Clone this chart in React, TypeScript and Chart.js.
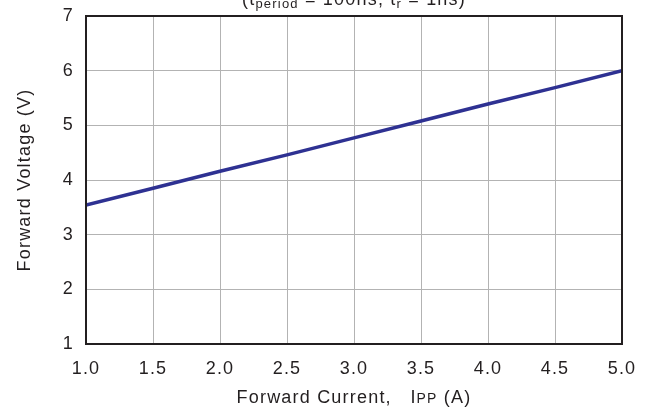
import React, { useEffect, useRef } from "react";
import { Chart, registerables } from "chart.js";

Chart.register(...registerables);

const currentA: number[] = [1.0, 1.5, 2.0, 2.5, 3.0, 3.5, 4.0, 4.5, 5.0];
const voltageV: number[] = [3.54, 3.85, 4.16, 4.46, 4.77, 5.08, 5.39, 5.69, 6.0];
const xTickLabels: string[] = ["1.0", "1.5", "2.0", "2.5", "3.0", "3.5", "4.0", "4.5", "5.0"];
const yTickLabels: string[] = ["1", "2", "3", "4", "5", "6", "7"];
const xTitle = "Forward Current,   I";
const xTitleSub = "PP";
const xTitleEnd = " (A)";
const yTitle = "Forward Voltage (V)";
const titleParts: { t: string; sub: boolean }[] = [
  { t: "(t", sub: false },
  { t: "period", sub: true },
  { t: " = 100ns, t", sub: false },
  { t: "r", sub: true },
  { t: " = 1ns)", sub: false },
];

const FONT = "Arial, 'Liberation Sans', Helvetica, sans-serif";
const INK = "#231f20";
const SPACING = "1.2px";

const spacingPlugin = {
  id: "spacing",
  beforeUpdate(chart: any) {
    chart.ctx.letterSpacing = SPACING;
  },
  beforeLayout(chart: any) {
    chart.ctx.letterSpacing = SPACING;
  },
  beforeDraw(chart: any) {
    chart.ctx.letterSpacing = SPACING;
  },
};

const framePlugin = {
  id: "frame",
  afterDraw(chart: any) {
    const { ctx, chartArea } = chart;
    const { left, right, top, bottom } = chartArea;
    ctx.save();
    ctx.letterSpacing = SPACING;
    ctx.strokeStyle = INK;
    ctx.lineWidth = 2;
    ctx.strokeRect(left, top, right - left, bottom - top);

    // partially clipped title at top
    const mainFont = `18px ${FONT}`;
    const subFont = `13px ${FONT}`;
    let total = 0;
    for (const p of titleParts) {
      ctx.font = p.sub ? subFont : mainFont;
      total += ctx.measureText(p.t).width;
    }
    let x = (left + right) / 2 - total / 2;
    ctx.fillStyle = INK;
    ctx.textBaseline = "alphabetic";
    ctx.textAlign = "left";
    for (const p of titleParts) {
      ctx.font = p.sub ? subFont : mainFont;
      ctx.fillText(p.t, x, p.sub ? 8 : 5);
      x += ctx.measureText(p.t).width;
    }

    // x-axis title
    const ty = 403;
    ctx.font = mainFont;
    const w1 = ctx.measureText(xTitle).width;
    ctx.font = `14px ${FONT}`;
    const w2 = ctx.measureText(xTitleSub).width;
    ctx.font = mainFont;
    const w3 = ctx.measureText(xTitleEnd).width;
    let tx = (left + right) / 2 - (w1 + w2 + w3) / 2;
    ctx.font = mainFont;
    ctx.fillText(xTitle, tx, ty);
    tx += w1;
    ctx.font = `14px ${FONT}`;
    ctx.fillText(xTitleSub, tx, ty);
    tx += w2;
    ctx.font = mainFont;
    ctx.fillText(xTitleEnd, tx, ty);
    ctx.restore();
  },
};

export default function App() {
  const ref = useRef<HTMLCanvasElement | null>(null);
  useEffect(() => {
    if (!ref.current) return;
    const chart = new Chart(ref.current, {
      type: "line",
      data: {
        datasets: [
          {
            data: currentA.map((x, i) => ({ x, y: voltageV[i] })),
            borderColor: "#2e3192",
            borderWidth: 3.5,
            pointRadius: 0,
            tension: 0,
            fill: false,
          },
        ],
      },
      options: {
        animation: false,
        responsive: false,
        maintainAspectRatio: false,
        layout: { padding: { top: 16, right: 30, left: 0, bottom: 0 } },
        plugins: { legend: { display: false }, tooltip: { enabled: false }, title: { display: false } },
        scales: {
          x: {
            type: "linear",
            min: 1,
            max: 5,
            afterFit(scale: any) {
              scale.height = 66;
              scale.paddingLeft = 0;
              scale.paddingRight = 0;
            },
            afterBuildTicks(scale: any) {
              scale.ticks = xTickLabels.map((l) => ({ value: parseFloat(l) }));
            },
            grid: { color: "#b3b3b3", lineWidth: 1, drawTicks: false },
            border: { display: false },
            ticks: {
              padding: 14,
              color: INK,
              font: { family: FONT, size: 18 },
              maxRotation: 0,
              callback: (v: any) => xTickLabels.find((l) => parseFloat(l) === Number(v)) ?? "",
            },
          },
          y: {
            type: "linear",
            min: 1,
            max: 7,
            afterFit(scale: any) {
              scale.width = 86;
              scale.paddingTop = 0;
              scale.paddingBottom = 0;
            },
            afterBuildTicks(scale: any) {
              scale.ticks = yTickLabels.map((l) => ({ value: parseFloat(l) }));
            },
            grid: { color: "#b3b3b3", lineWidth: 1, drawTicks: false },
            border: { display: false },
            title: {
              display: true,
              text: yTitle,
              color: INK,
              font: { family: FONT, size: 18, weight: "normal" },
              padding: { top: 14, bottom: 0 },
            },
            ticks: {
              padding: 12,
              color: INK,
              font: { family: FONT, size: 18 },
              callback: (v: any) => yTickLabels.find((l) => parseFloat(l) === Number(v)) ?? "",
            },
          },
        },
      },
      plugins: [spacingPlugin, framePlugin],
    } as any);
    return () => chart.destroy();
  }, []);
  return (
    <div style={{ position: "absolute", left: 0, top: 0, width: 652, height: 410, background: "#fff" }}>
      <canvas ref={ref} width={652} height={410} style={{ display: "block", width: 652, height: 410 }} />
    </div>
  );
}
